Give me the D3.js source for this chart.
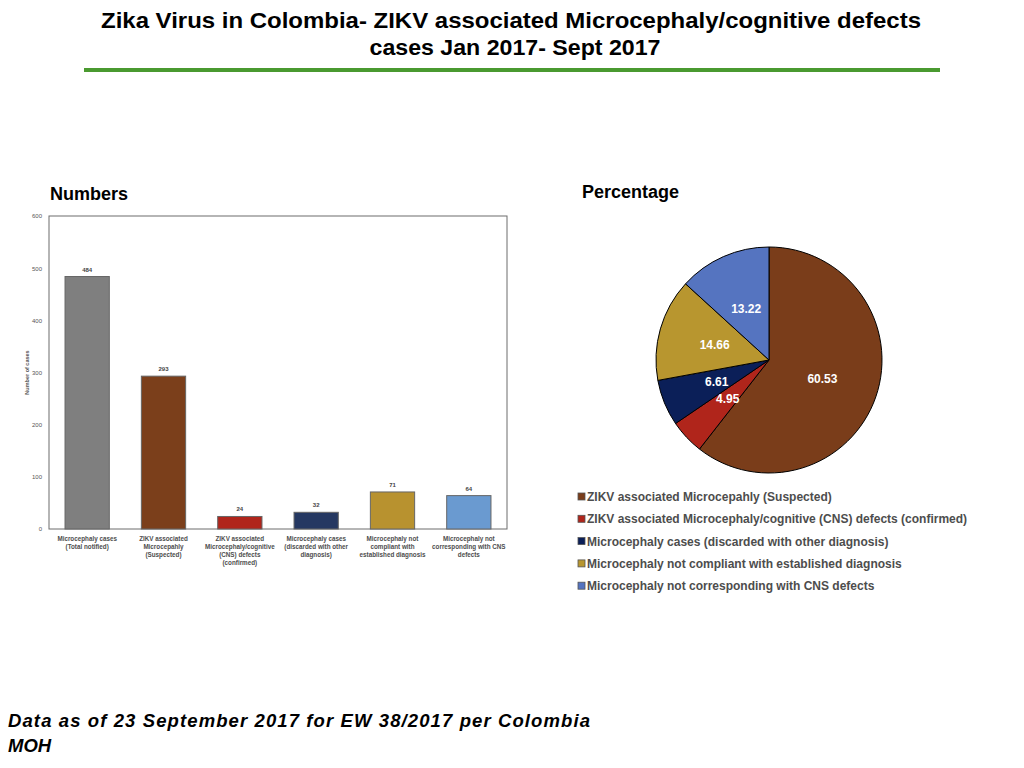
<!DOCTYPE html>
<html>
<head>
<meta charset="utf-8">
<script src="https://cdn.jsdelivr.net/npm/d3@7"></script>
<style>
  body { margin: 0; background: #fff; }
  svg { display: block; font-family: "Liberation Sans", Arial, sans-serif; }
</style>
</head>
<body>
<svg id="chart" width="1024" height="768"></svg>
<script>
// bar chart data
var barLabels = [
    ['Microcephaly cases', '(Total notified)'],
    ['ZIKV associated', 'Microcepahly', '(Suspected)'],
    ['ZIKV associated', 'Microcephaly/cognitive', '(CNS) defects', '(confirmed)'],
    ['Microcephaly cases', '(discarded with other', 'diagnosis)'],
    ['Microcephaly not', 'compliant with', 'established diagnosis'],
    ['Microcephaly not', 'corresponding with CNS', 'defects']
];
var barValues = [484, 293, 24, 32, 71, 64];
var barColors = ['#7f7f7f', '#7b3f1b', '#b0251b', '#253862', '#b8922f', '#6a9ad0'];
var yTicks = [0, 100, 200, 300, 400, 500, 600];

// pie data
var pieNames = [
    'ZIKV associated Microcepahly (Suspected)',
    'ZIKV associated Microcephaly/cognitive (CNS) defects (confirmed)',
    'Microcephaly cases (discarded with other diagnosis)',
    'Microcephaly not compliant with established diagnosis',
    'Microcephaly not corresponding with CNS defects'
];
var pieValues = [60.53, 4.95, 6.61, 14.66, 13.22];
var pieColors = ['#7a3d1a', '#b0251b', '#0b1f58', '#b8962f', '#5574c0'];

var svg = d3.select('#chart');

// title
var title = svg.append('g').attr('font-weight', 'bold').attr('fill', '#000')
    .attr('text-anchor', 'middle');
title.append('text').attr('x', 511).attr('y', 28).attr('font-size', 22)
    .attr('textLength', 820).attr('lengthAdjust', 'spacingAndGlyphs')
    .text('Zika Virus in Colombia- ZIKV associated Microcephaly/cognitive defects');
title.append('text').attr('x', 515).attr('y', 55).attr('font-size', 22)
    .attr('textLength', 291).attr('lengthAdjust', 'spacingAndGlyphs')
    .text('cases Jan 2017- Sept 2017');
svg.append('line').attr('x1', 84).attr('x2', 940).attr('y1', 70).attr('y2', 70)
    .attr('stroke', '#4a9a30').attr('stroke-width', 4);

// section titles
svg.append('text').attr('x', 50).attr('y', 200).attr('font-size', 18).attr('font-weight', 'bold').text('Numbers');
svg.append('text').attr('x', 582).attr('y', 198).attr('font-size', 18).attr('font-weight', 'bold').text('Percentage');

// footer
var foot = svg.append('text').attr('font-size', 18.5).attr('font-weight', 'bold').attr('font-style', 'italic');
foot.append('tspan').attr('x', 8).attr('y', 727).attr('textLength', 582).attr('lengthAdjust', 'spacing')
    .text('Data as of 23 September 2017 for EW 38/2017 per Colombia');
foot.append('tspan').attr('x', 8).attr('y', 752).text('MOH');

// ---- bar chart ----
var plot = {left: 49, top: 216, right: 507, bottom: 529};
var x = d3.scaleBand().domain(d3.range(barValues.length))
    .range([plot.left, plot.right]).paddingInner(0.42).paddingOuter(0.21);
var y = d3.scaleLinear().domain([0, 600]).range([plot.bottom, plot.top]);

var bars = svg.append('g');
bars.append('rect').attr('x', plot.left).attr('y', plot.top)
    .attr('width', plot.right - plot.left).attr('height', plot.bottom - plot.top)
    .attr('fill', 'none').attr('stroke', '#6d6d6d').attr('stroke-width', 1);

var yAxis = bars.append('g').attr('transform', 'translate(' + plot.left + ',0)')
    .call(d3.axisLeft(y).tickValues(yTicks).tickSize(0).tickPadding(7));
yAxis.select('.domain').remove();
yAxis.selectAll('text').attr('font-size', 6).attr('fill', '#555').attr('font-family', '"Liberation Sans", Arial, sans-serif');

bars.append('text').attr('transform', 'translate(29,' + ((plot.top + plot.bottom) / 2) + ') rotate(-90)')
    .attr('text-anchor', 'middle').attr('font-size', 5.5).attr('fill', '#555').attr('font-weight', 'bold')
    .text('Number of cases');

bars.selectAll('.bar').data(barValues).enter().append('rect')
    .attr('class', 'bar')
    .attr('x', function(d, i) { return x(i); })
    .attr('y', function(d) { return y(d); })
    .attr('width', x.bandwidth())
    .attr('height', function(d) { return y(0) - y(d); })
    .attr('fill', function(d, i) { return barColors[i]; })
    .attr('stroke', '#666').attr('stroke-width', 1);

bars.selectAll('.val').data(barValues).enter().append('text')
    .attr('class', 'val')
    .attr('x', function(d, i) { return x(i) + x.bandwidth() / 2; })
    .attr('y', function(d) { return y(d) - 5; })
    .attr('text-anchor', 'middle').attr('font-size', 6).attr('font-weight', 'bold').attr('fill', '#444')
    .text(function(d) { return d; });

var xl = bars.selectAll('.xl').data(barLabels).enter().append('text')
    .attr('class', 'xl')
    .attr('text-anchor', 'middle').attr('font-size', 6.3).attr('font-weight', 'bold').attr('fill', '#4d4d4d');
xl.each(function(lines, i) {
    var t = d3.select(this);
    lines.forEach(function(l, j) {
        t.append('tspan').attr('x', x(i) + x.bandwidth() / 2).attr('y', 541 + j * 8).text(l);
    });
});

// ---- pie chart ----
var cx = 769, cy = 360, r = 113;
var pie = d3.pie().sort(null).value(function(d) { return d; });
var arc = d3.arc().innerRadius(0).outerRadius(r);
var pg = svg.append('g').attr('transform', 'translate(' + cx + ',' + cy + ')');
var arcs = pie(pieValues);
pg.selectAll('path').data(arcs).enter().append('path')
    .attr('d', arc)
    .attr('fill', function(d, i) { return pieColors[i]; })
    .attr('stroke', '#000').attr('stroke-width', 1);
pg.selectAll('.pl').data(arcs).enter().append('text')
    .attr('class', 'pl')
    .attr('transform', function(d) { return 'translate(' + arc.centroid(d) + ')'; })
    .attr('dy', '0.35em')
    .attr('text-anchor', 'middle').attr('font-size', 12).attr('font-weight', 'bold').attr('fill', '#fff')
    .text(function(d) { return d.data.toFixed(2); });

// legend
var leg = svg.append('g');
var items = leg.selectAll('g').data(pieNames).enter().append('g')
    .attr('transform', function(d, i) { return 'translate(578,' + (497 + i * 22.3) + ')'; });
items.append('rect').attr('x', 0).attr('y', -4).attr('width', 7).attr('height', 7)
    .attr('fill', function(d, i) { return pieColors[i]; })
    .attr('stroke', '#555').attr('stroke-width', 0.8);
items.append('text').attr('x', 9).attr('y', 4).attr('font-size', 12).attr('font-weight', 'bold')
    .attr('fill', '#4d4d4d').text(function(d) { return d; });
</script>
</body>
</html>
